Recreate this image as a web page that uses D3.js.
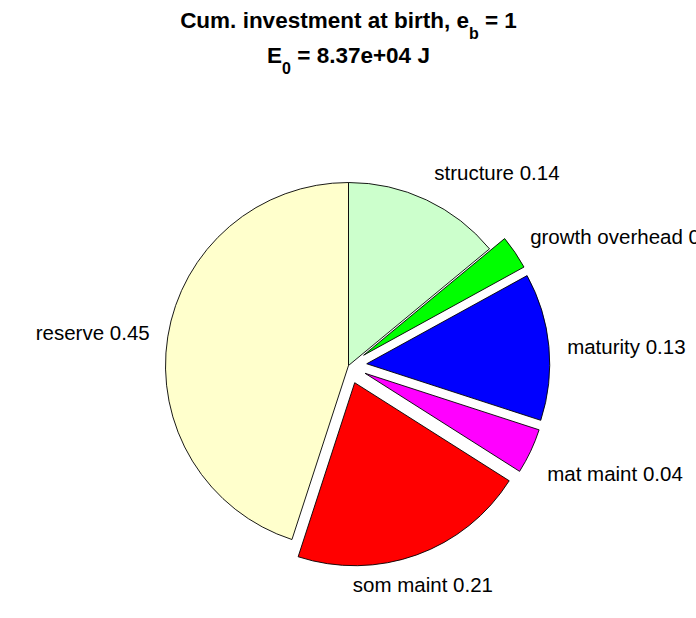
<!DOCTYPE html>
<html>
<head>
<meta charset="utf-8">
<script src="https://cdn.jsdelivr.net/npm/d3@7"></script>
<style>
  html, body { margin: 0; padding: 0; background: #fff; overflow: hidden; }
  svg { display: block; }
  text { font-family: "Liberation Sans", Arial, Helvetica, sans-serif; fill: #000; }
</style>
</head>
<body>
<div id="chart"></div>
<script>
// ---- data ----
const categories = ["structure", "growth overhead", "maturity", "mat maint", "som maint", "reserve"];
const values     = [0.14, 0.03, 0.13, 0.04, 0.21, 0.45];
const exploded   = [false, true, true, true, true, false];
const colors     = ["#CCFFCC", "#00FF00", "#0000FF", "#FF00FF", "#FF0000", "#FFFFCC"];
const titleLine1 = ["Cum. investment at birth, e", "b", " = 1"];
const titleLine2 = ["E", "0", " = 8.37e+04 J"];

// ---- layout ----
const W = 696, H = 618;
const cx = 348.5, cy = 365.5, R = 183;
const explodeDist = 0.1 * R;
const labelDist = 1.1 * R;

const svg = d3.select("#chart").append("svg")
  .attr("width", W).attr("height", H);

// Title
const title = svg.append("g").attr("text-anchor", "middle")
  .style("font-weight", "bold");
function titleLine(parts, y) {
  const t = title.append("text").attr("x", cx).attr("y", y).style("font-size", "22.5px");
  t.append("tspan").text(parts[0]);
  t.append("tspan").attr("dy", 11).style("font-size", "16px").text(parts[1]);
  t.append("tspan").attr("dy", -11).text(parts[2]);
}
titleLine(titleLine1, 28);
titleLine(titleLine2, 63);

// Pie
const data = categories.map((c, i) => ({ name: c, value: values[i], exploded: exploded[i], color: colors[i] }));
const pie = d3.pie().value(d => d.value).sort(null).startAngle(0).endAngle(2 * Math.PI);
const arcs = pie(data);
const arc = d3.arc().innerRadius(0).outerRadius(R);

const g = svg.append("g").attr("transform", `translate(${cx},${cy})`);

arcs.forEach(a => {
  const mid = (a.startAngle + a.endAngle) / 2;
  const off = a.data.exploded ? explodeDist : 0;
  a.ox = off * Math.sin(mid);
  a.oy = -off * Math.cos(mid);
  a.mid = mid;
});

g.selectAll("path.slice").data(arcs).join("path")
  .attr("class", "slice")
  .attr("transform", d => `translate(${d.ox},${d.oy})`)
  .attr("d", arc)
  .attr("fill", d => d.data.color)
  .attr("stroke", "#000")
  .attr("stroke-width", 0.9)
  .attr("stroke-linejoin", "miter");

// Labels
g.selectAll("text.lbl").data(arcs).join("text")
  .attr("class", "lbl")
  .style("font-size", "20.5px")
  .attr("x", d => d.ox + labelDist * Math.sin(d.mid))
  .attr("y", d => {
    const s = Math.sin(d.mid), c = Math.cos(d.mid);
    return d.oy - labelDist * c - 12 * c + 25 * Math.max(0, -c) * Math.pow(Math.max(0, s), 3) + 3 * Math.max(0, s) * (1 - Math.abs(c));
  })
  .attr("dominant-baseline", "central")
  .attr("text-anchor", d => {
    const s = Math.sin(d.mid);
    return s > 0.35 ? "start" : (s < -0.35 ? "end" : "middle");
  })
  .text(d => `${d.data.name} ${d.data.value.toFixed(2)}`);
</script>
</body>
</html>
